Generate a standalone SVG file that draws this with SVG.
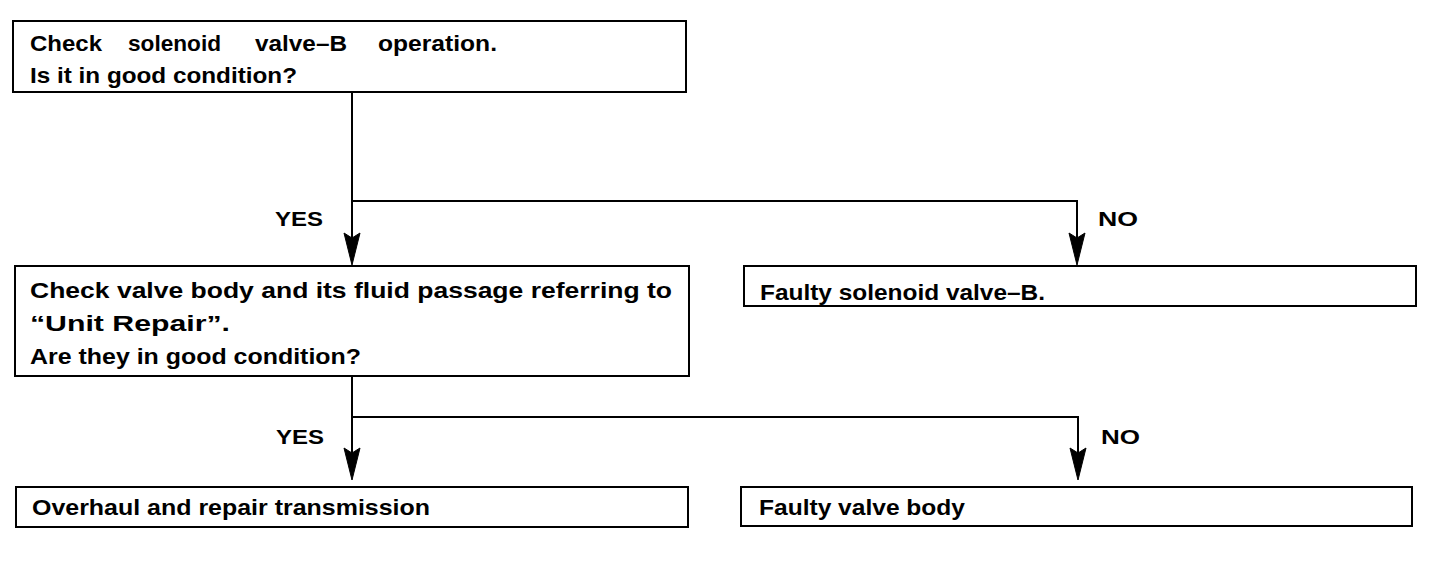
<svg xmlns="http://www.w3.org/2000/svg" width="1456" height="564" viewBox="0 0 1456 564">
<defs>
<style>
.box{fill:#fff;stroke:#000;stroke-width:2}
.t{font-family:"Liberation Sans",Arial,sans-serif;font-weight:bold;font-size:22px;fill:#000}
.lbl{font-family:"Liberation Sans",Arial,sans-serif;font-weight:bold;font-size:21px;fill:#000}
.ln{fill:none;stroke:#000;stroke-width:2}
.ah{fill:#000;stroke:#000;stroke-width:1;stroke-linejoin:miter}
</style>
</defs>
<rect width="1456" height="564" fill="#fff"/>
<g id="connectors">
<path class="ln" d="M352,92 V250 M352,201 H1077 V250"/>
<path class="ah" d="M352,265 L344,233 L352,238 L360,233 Z"/>
<path class="ah" d="M1077,265 L1069,233 L1077,238 L1085,233 Z"/>
<text class="lbl" x="275" y="226" textLength="48" lengthAdjust="spacingAndGlyphs">YES</text>
<text class="lbl" x="1098" y="226" textLength="40" lengthAdjust="spacingAndGlyphs">NO</text>
<path class="ln" d="M352,376 V465 M352,417 H1078 V465"/>
<path class="ah" d="M352,480 L344,448 L352,453 L360,448 Z"/>
<path class="ah" d="M1078,480 L1070,448 L1078,453 L1086,448 Z"/>
<text class="lbl" x="276" y="444" textLength="48" lengthAdjust="spacingAndGlyphs">YES</text>
<text class="lbl" x="1101" y="444" textLength="39" lengthAdjust="spacingAndGlyphs">NO</text>
</g>
<g id="n1">
<rect class="box" x="13" y="21" width="673" height="71"/>
<text class="t" x="30" y="51" textLength="72" lengthAdjust="spacingAndGlyphs">Check</text>
<text class="t" x="128" y="51" textLength="93" lengthAdjust="spacingAndGlyphs">solenoid</text>
<text class="t" x="255" y="51" textLength="92" lengthAdjust="spacingAndGlyphs">valve–B</text>
<text class="t" x="378" y="51" textLength="119" lengthAdjust="spacingAndGlyphs">operation.</text>
<text class="t" x="30" y="83" textLength="267" lengthAdjust="spacingAndGlyphs">Is it in good condition?</text>
</g>
<g id="n2">
<rect class="box" x="15" y="266" width="674" height="110"/>
<text class="t" x="30" y="298" textLength="642" lengthAdjust="spacingAndGlyphs">Check valve body and its fluid passage referring to</text>
<text class="t" x="30" y="331" textLength="200" lengthAdjust="spacingAndGlyphs">“Unit Repair”.</text>
<text class="t" x="30" y="364" textLength="331" lengthAdjust="spacingAndGlyphs">Are they in good condition?</text>
</g>
<g id="n3">
<rect class="box" x="744" y="266" width="672" height="40"/>
<text class="t" x="760" y="300" textLength="285" lengthAdjust="spacingAndGlyphs">Faulty solenoid valve–B.</text>
</g>
<g id="n4">
<rect class="box" x="16" y="487" width="672" height="40"/>
<text class="t" x="32" y="515" textLength="398" lengthAdjust="spacingAndGlyphs">Overhaul and repair transmission</text>
</g>
<g id="n5">
<rect class="box" x="741" y="487" width="671" height="39"/>
<text class="t" x="759" y="515" textLength="206" lengthAdjust="spacingAndGlyphs">Faulty valve body</text>
</g>
</svg>
